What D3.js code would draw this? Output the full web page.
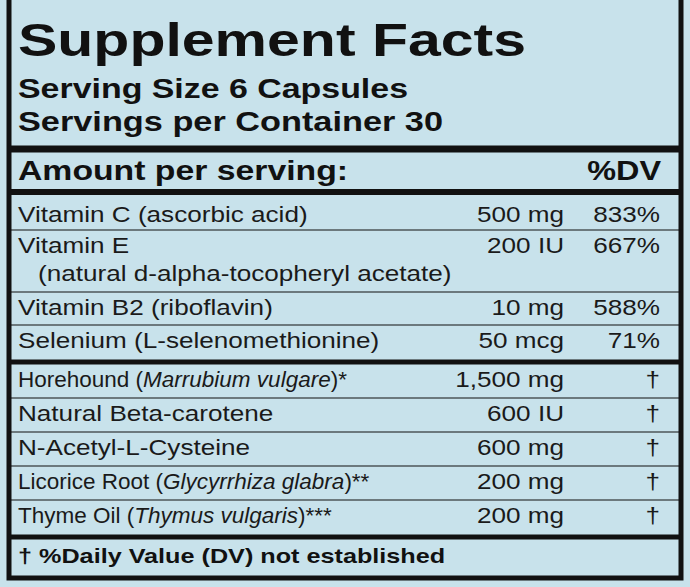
<!DOCTYPE html><html><head><script src="https://cdn.jsdelivr.net/npm/d3@7"></script>
<style>body{margin:0;background:#c8e2eb}</style></head><body><svg id="c" width="690" height="587"></svg>
<script>
const title = "Supplement Facts";
const serving = ["Serving Size 6 Capsules", "Servings per Container 30"];
const names = [["Vitamin C (ascorbic acid)"],["Vitamin E","(natural d-alpha-tocopheryl acetate)"],["Vitamin B2 (riboflavin)"],["Selenium (L-selenomethionine)"],
 ["Horehound (",["Marrubium vulgare"],")*"],["Natural Beta-carotene"],["N-Acetyl-L-Cysteine"],["Licorice Root (",["Glycyrrhiza glabra"],")**"],["Thyme Oil (",["Thymus vulgaris"],")***"]];
const amounts = ["500 mg","200 IU","10 mg","50 mcg","1,500 mg","600 IU","600 mg","200 mg","200 mg"];
const dv = ["833%","667%","588%","71%","†","†","†","†","†"];
const rowBounds = [199,230,292,325,360,364,398,432,466,500,535];
const footnote = "† %Daily Value (DV) not established";

const svg = d3.select("#c");
const F = "'Liberation Sans', Arial, sans-serif";
function stretch(t,r){ const n=t.node(); const L=n.getComputedTextLength(); t.attr("textLength",L*r).attr("lengthAdjust","spacingAndGlyphs"); return t;}
svg.append("rect").attr("width",690).attr("height",587).attr("fill","#c8e2eb");
svg.append("rect").attr("x",9).attr("y",-4).attr("width",672).attr("height",582).attr("fill","none").attr("stroke","#111").attr("stroke-width",5);
svg.append("text").attr("x",18).attr("y",56).attr("font-family",F).attr("font-weight","bold").attr("font-size",47).attr("textLength",508).attr("lengthAdjust","spacingAndGlyphs").attr("fill","#111").text(title);
serving.forEach((s,i)=>svg.append("text").attr("x",18).attr("y",98+i*33).attr("font-family",F).attr("font-weight","bold").attr("font-size",28).attr("fill","#111").attr("textLength",i?425:390).attr("lengthAdjust","spacingAndGlyphs").text(s));
const hline=(y,w)=>svg.append("line").attr("x1",9).attr("x2",681).attr("y1",y).attr("y2",y).attr("stroke","#111").attr("stroke-width",w);
hline(149,7); hline(192,6); hline(362,5); hline(537,5);
stretch(svg.append("text").attr("x",18).attr("y",180).attr("font-family",F).attr("font-weight","bold").attr("font-size",27).attr("fill","#111").text("Amount per serving:"),1.25);
stretch(svg.append("text").attr("x",661).attr("y",180).attr("text-anchor","end").attr("font-family",F).attr("font-weight","bold").attr("font-size",27).attr("fill","#111").text("%DV"),1.2);
const FS=22.5, R=1.16;
const rows = [0,1,2,3,5,6,7,8,9];
rows.forEach((ri,i)=>{
  const y0=rowBounds[ri];
  if(![0,5].includes(ri)) hline(y0,1.2);
  const by = y0+23;
  const t = svg.append("text").attr("x",18).attr("y",by).attr("font-family",F).attr("font-size",FS).attr("fill","#1a1a1a");
  const n = names[i];
  if(n.length===2 && typeof n[1]==="string"){
    t.text(n[0]);
    stretch(svg.append("text").attr("x",38).attr("y",by+28).attr("font-family",F).attr("font-size",FS).attr("fill","#1a1a1a").text(n[1]),R);
  } else n.forEach(p=>{ if(Array.isArray(p)) t.append("tspan").attr("font-style","italic").text(p[0]); else t.append("tspan").text(p); });
  if(n.length!==3) stretch(t,R);
  stretch(svg.append("text").attr("x",564).attr("y",by).attr("text-anchor","end").attr("font-family",F).attr("font-size",FS).attr("fill","#1a1a1a").text(amounts[i]),R);
  stretch(svg.append("text").attr("x",660).attr("y",by).attr("text-anchor","end").attr("font-family",F).attr("font-size",FS).attr("fill","#1a1a1a").text(dv[i]),R);
});
stretch(svg.append("text").attr("x",18).attr("y",563).attr("font-family",F).attr("font-weight","bold").attr("font-size",21).attr("fill","#111").text(footnote),1.2);
</script></body></html>
